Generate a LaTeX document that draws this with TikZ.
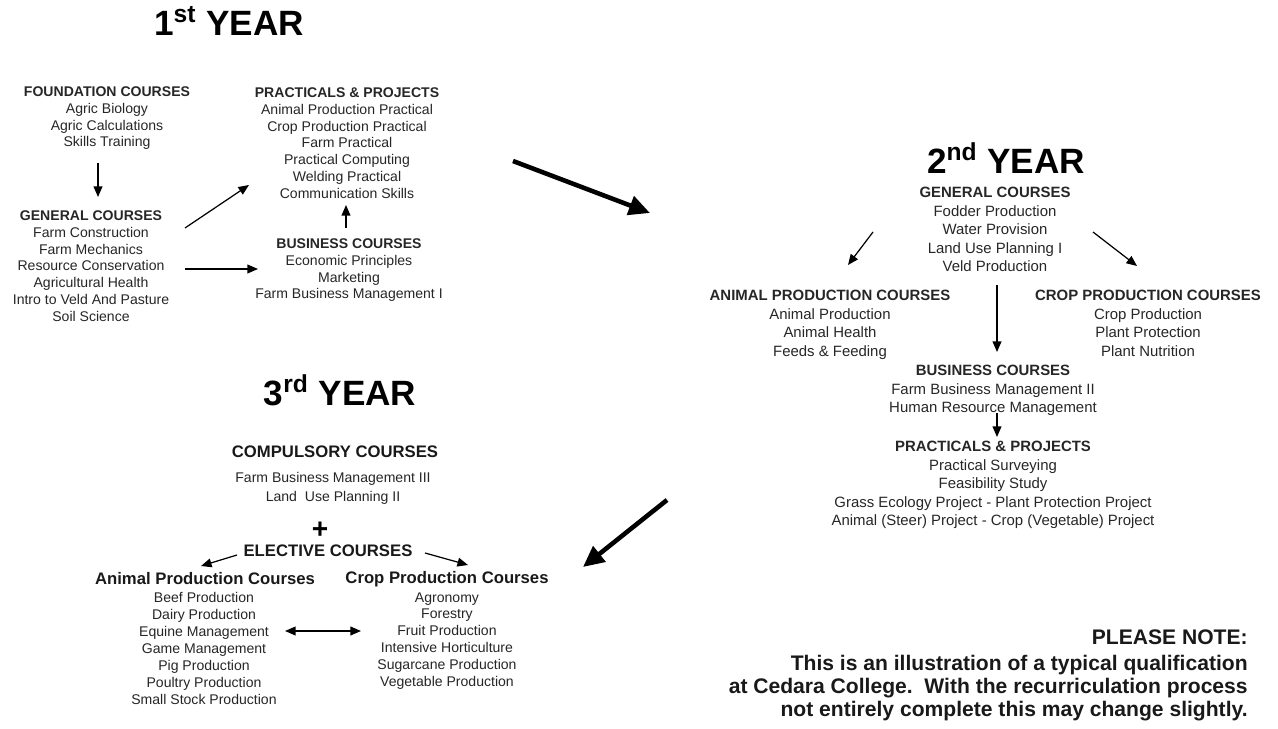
\documentclass[tikz,border=0pt]{standalone}
\usepackage{fontspec}
\setmainfont{Liberation Sans}
\usetikzlibrary{arrows.meta}
\tikzset{
  year/.style={font=\fontsize{20}{22}\selectfont\bfseries, inner sep=0pt},
  listA/.style={align=center, inner sep=0pt, anchor=north, text=black!85,
    font=\fontsize{8}{9.64}\selectfont},
  listB/.style={align=center, inner sep=0pt, anchor=north, text=black!85,
    font=\fontsize{8.5}{10.5}\selectfont},
  headC/.style={inner sep=0pt, text=black!90, font=\fontsize{9.5}{11}\selectfont\bfseries},
  arr/.style={-{Triangle[length=6pt,width=5pt]}, line width=0.7pt},
  bigarr/.style={-{Triangle[length=12pt,width=11pt]}, line width=2.6pt},
}
\begin{document}
\begin{tikzpicture}[x=0.02cm,y=-0.02cm]
    \useasboundingbox (0,0) rectangle (1278,729);

    % first year
    \node[year] (y1) at (229,21) {1\textsuperscript{st} YEAR};
    \node[listA] (fnd) at (107,86) {\textbf{FOUNDATION COURSES}\\Agric Biology\\Agric Calculations\\Skills Training};
    \node[listA] (gen1) at (91,210) {\textbf{GENERAL COURSES}\\Farm Construction\\Farm Mechanics\\Resource Conservation\\Agricultural Health\\Intro to Veld And Pasture\\Soil Science};
    \node[listA] (prac1) at (347,87) {\textbf{PRACTICALS \& PROJECTS}\\Animal Production Practical\\Crop Production Practical\\Farm Practical\\Practical Computing\\Welding Practical\\Communication Skills};
    \node[listA] (bus1) at (349,238) {\textbf{BUSINESS COURSES}\\Economic Principles\\Marketing\\Farm Business Management I};

    \coordinate (fnd-o) at (98,163);
    \coordinate (gen1-i) at (98,197);
    \coordinate (gen1-a) at (185,228);
    \coordinate (prac1-i) at (249,185);
    \coordinate (gen1-b) at (185,269);
    \coordinate (bus1-i) at (258,269);
    \coordinate (bus1-o) at (346,228);
    \coordinate (prac1-u) at (346,205);
    \draw[arr] (fnd-o) -- (gen1-i);
    \draw[arr] (gen1-a) -- (prac1-i);
    \draw[arr] (gen1-b) -- (bus1-i);
    \draw[arr] (bus1-o) -- (prac1-u);

    \coordinate (y1-o) at (513,161);
    \coordinate (y2-i) at (650,213);
    \draw[bigarr] (y1-o) -- (y2-i);

    % second year
    \node[year] (y2) at (1006,158) {2\textsuperscript{nd} YEAR};
    \node[listB] (gen2) at (995,187) {\textbf{GENERAL COURSES}\\Fodder Production\\Water Provision\\Land Use Planning I\\Veld Production};
    \node[listB] (ani2) at (830,290) {\textbf{ANIMAL PRODUCTION COURSES}\\Animal Production\\Animal Health\\Feeds \& Feeding};
    \node[listB] (crop2) at (1148,290) {\textbf{CROP PRODUCTION COURSES}\\Crop Production\\Plant Protection\\Plant Nutrition};
    \node[listB] (bus2) at (993,365) {\textbf{BUSINESS COURSES}\\Farm Business Management II\\Human Resource Management};
    \node[listB] (prac2) at (993,441) {\textbf{PRACTICALS \& PROJECTS}\\Practical Surveying\\Feasibility Study\\Grass Ecology Project - Plant Protection Project\\Animal (Steer) Project - Crop (Vegetable) Project};

    \coordinate (gen2-l) at (873,232);
    \coordinate (ani2-i) at (848,265);
    \coordinate (gen2-r) at (1093,232);
    \coordinate (crop2-i) at (1137,266);
    \coordinate (gen2-d) at (997,285);
    \coordinate (bus2-i) at (997,352);
    \coordinate (bus2-o) at (997,413);
    \coordinate (prac2-i) at (997,437);
    \draw[arr] (gen2-l) -- (ani2-i);
    \draw[arr] (gen2-r) -- (crop2-i);
    \draw[arr] (gen2-d) -- (bus2-i);
    \draw[arr] (bus2-o) -- (prac2-i);

    \coordinate (y2-o) at (667,500);
    \coordinate (y3-i) at (583,567);
    \draw[bigarr] (y2-o) -- (y3-i);

    % third year
    \node[year] (y3) at (340,390) {3\textsuperscript{rd} YEAR};
    \node[headC] (comp) at (335,452) {COMPULSORY COURSES};
    \node[listA, font=\fontsize{8}{10.8}\selectfont] (compL) at (333,472) {Farm Business Management III\\Land\ \ Use Planning II};
    \node[inner sep=0pt, font=\fontsize{16}{16}\selectfont\bfseries] (plus) at (320,530) {+};
    \node[headC] (elec) at (328,551) {ELECTIVE COURSES};
    \node[headC] (aniH) at (205,579) {Animal Production Courses};
    \node[listA] (aniL) at (204,592) {Beef Production\\Dairy Production\\Equine Management\\Game Management\\Pig Production\\Poultry Production\\Small Stock Production};
    \node[headC] (cropH) at (447,579) {Crop Production Courses};
    \node[listA] (cropL) at (447,592) {Agronomy\\Forestry\\Fruit Production\\Intensive Horticulture\\Sugarcane Production\\Vegetable Production};

    \coordinate (elec-l) at (237,555);
    \coordinate (aniH-i) at (201,566);
    \coordinate (elec-r) at (425,553);
    \coordinate (cropH-i) at (468,565);
    \coordinate (aniL-x) at (285,631);
    \coordinate (cropL-x) at (361,631);
    \draw[arr] (elec-l) -- (aniH-i);
    \draw[arr] (elec-r) -- (cropH-i);
    \draw[arr, {Triangle[length=6pt,width=5pt]}-{Triangle[length=6pt,width=5pt]}] (aniL-x) -- (cropL-x);

    % note
    \node[anchor=north east, align=right, inner sep=0pt, text=black!90,
      font=\fontsize{12}{13}\selectfont\bfseries] (note) at (1248,629)
      {PLEASE NOTE:\\[2pt]This is an illustration of a typical qualification\\at Cedara College.\ \ With the recurriculation process\\not entirely complete this may change slightly.};
\end{tikzpicture}
\end{document}
